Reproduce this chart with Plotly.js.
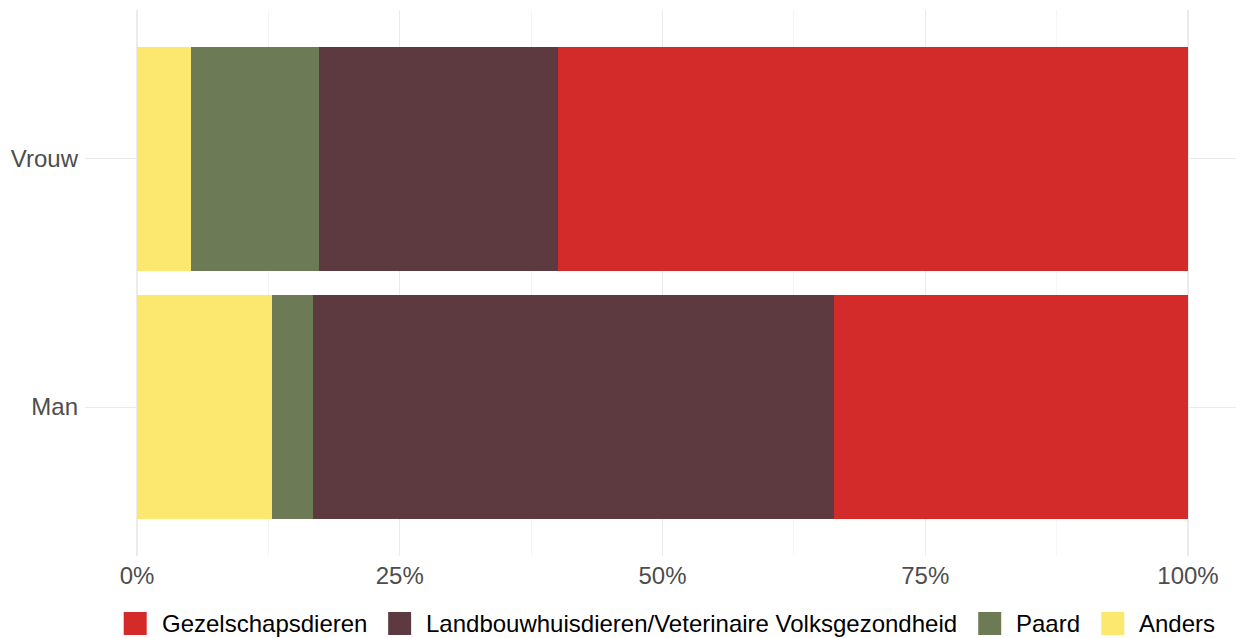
<!DOCTYPE html>
<html>
<head>
<meta charset="utf-8">
<script src="https://cdn.plot.ly/plotly-3.0.1.min.js"></script>
<style>
html,body{margin:0;padding:0;background:#fff;}
#chart{width:1236px;height:638px;}
</style>
</head>
<body>
<div id="chart"></div>
<script>
// Data (percent shares per group)
var groups = ['Man', 'Vrouw'];
var seriesNames = ['Anders', 'Paard', 'Landbouwhuisdieren/Veterinaire Volksgezondheid', 'Gezelschapsdieren'];
var anders = [12.85, 5.14];
var paard = [3.87, 12.21];
var landbouw = [49.60, 22.72];
var gezelschap = [33.68, 59.93];
var xTicks = [0, 25, 50, 75, 100];
var xTickLabels = ['0%', '25%', '50%', '75%', '100%'];
var legendOrder = ['Gezelschapsdieren', 'Landbouwhuisdieren/Veterinaire Volksgezondheid', 'Paard', 'Anders'];

var colors = {
  'Anders': '#FDE86F',
  'Paard': '#6C7A56',
  'Landbouwhuisdieren/Veterinaire Volksgezondheid': '#5D3A40',
  'Gezelschapsdieren': '#D32B2A'
};
var values = {
  'Anders': anders,
  'Paard': paard,
  'Landbouwhuisdieren/Veterinaire Volksgezondheid': landbouw,
  'Gezelschapsdieren': gezelschap
};

var traces = seriesNames.map(function (name) {
  return {
    type: 'bar',
    orientation: 'h',
    name: name,
    y: groups,
    x: values[name],
    width: 0.9,
    marker: {color: colors[name], line: {width: 0}},
    showlegend: false,
    hoverinfo: 'x+name'
  };
});

var W = 1236, H = 638;
var M = {l: 85, r: 0, t: 10, b: 82};
var plotW = W - M.l - M.r, plotH = H - M.t - M.b;

// Custom legend (large square keys as in reference)
var FONT = '"Liberation Sans", Arial, sans-serif';
var legFont = 24;
var canvas = document.createElement('canvas');
var ctx = canvas.getContext('2d');
ctx.font = legFont + 'px "Liberation Sans"';
var key = 23, gapKT = 13, gapItems = 20, annPad = 3;
var widths = legendOrder.map(function (n) { return ctx.measureText(n).width; });
var total = 0;
widths.forEach(function (w, i) { total += key + gapKT + annPad + w + (i < widths.length - 1 ? gapItems : 0); });
var centerPx = 670;
var xpx = centerPx - total / 2;
var keyTop = 612, keyBot = 635;
function px2x(p) { return (p - M.l) / plotW; }
function py2y(p) { return (H - M.b - p) / plotH; }
var shapes = [], annotations = [];
legendOrder.forEach(function (n, i) {
  shapes.push({
    type: 'rect', xref: 'paper', yref: 'paper',
    x0: px2x(xpx), x1: px2x(xpx + key), y0: py2y(keyBot), y1: py2y(keyTop),
    fillcolor: colors[n], line: {width: 0}
  });
  annotations.push({
    xref: 'paper', yref: 'paper', x: px2x(xpx + key + gapKT), y: py2y((keyTop + keyBot) / 2),
    xanchor: 'left', yanchor: 'middle', text: n, showarrow: false,
    font: {family: FONT, size: legFont, color: '#000000'}
  });
  xpx += key + gapKT + annPad + widths[i] + gapItems;
});

var layout = {
  width: W, height: H,
  margin: M,
  paper_bgcolor: '#ffffff',
  plot_bgcolor: '#ffffff',
  barmode: 'stack',
  bargap: 0,
  showlegend: false,
  font: {family: FONT},
  xaxis: {
    range: [-4.95, 104.57],
    tickmode: 'array',
    tickvals: xTicks,
    ticktext: xTickLabels,
    ticks: '',
    showline: false,
    zeroline: false,
    showgrid: true,
    gridcolor: '#EBEBEB',
    gridwidth: 1.1,
    minor: {tick0: 0, dtick: 12.5, showgrid: true, gridcolor: '#EEEEEE', gridwidth: 0.6},
    tickfont: {family: FONT, size: 24, color: '#4D4D4D'},
    ticklabelstandoff: 3,
    fixedrange: true
  },
  yaxis: {
    type: 'category',
    categoryorder: 'array',
    categoryarray: groups,
    range: [-0.6, 1.6],
    ticks: '',
    showline: false,
    zeroline: false,
    showgrid: true,
    gridcolor: '#EBEBEB',
    gridwidth: 1.1,
    tickfont: {family: FONT, size: 24, color: '#4D4D4D'},
    ticklabelstandoff: 6,
    fixedrange: true
  },
  shapes: shapes,
  annotations: annotations
};

Plotly.newPlot('chart', traces, layout, {displayModeBar: false, staticPlot: true});
</script>
</body>
</html>
